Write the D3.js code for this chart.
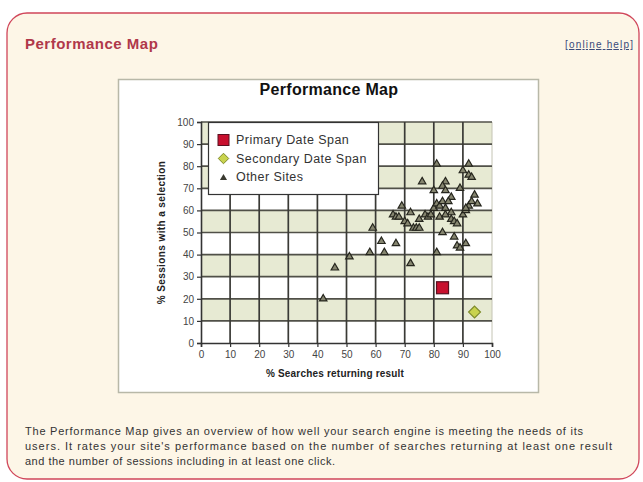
<!DOCTYPE html>
<html>
<head>
<meta charset="utf-8">
<script src="https://cdn.jsdelivr.net/npm/d3@7"></script>
<style>
  body { margin: 0; background: #fff; }
  svg { display: block; }
</style>
</head>
<body>
<svg id="chart"></svg>
<script>
// data
const xTicks = [0, 10, 20, 30, 40, 50, 60, 70, 80, 90, 100];
const yTicks = [0, 10, 20, 30, 40, 50, 60, 70, 80, 90, 100];
const primarySpan = [[83, 25]];
const secondarySpan = [[94, 14]];
const otherSites = [
  [42, 20], [46, 34], [51, 39], [58, 41], [59, 52], [62, 46], [63, 41], [67, 45],
  [72, 36], [81, 41], [83, 50], [87, 48], [88, 44], [89, 43], [91, 45],
  [81, 81], [92, 81], [90, 78], [92, 76], [93, 75], [76, 73], [84, 73], [83, 71],
  [89, 70], [80, 69], [84, 69], [86, 66], [94, 67], [95, 63],
  [66, 58], [67, 57], [69, 62], [70, 55], [71, 54], [72, 59], [73, 52], [74, 52],
  [75, 56], [77, 58], [78, 57], [79, 58], [80, 61], [81, 63], [82, 62], [83, 64],
  [84, 61], [85, 64], [86, 59], [86, 56], [87, 55], [88, 54], [90, 58], [91, 60],
  [92, 62], [93, 64], [82, 57], [84, 58], [91, 61], [75, 52], [68, 57]
];
const legendItems = ["Primary Date Span", "Secondary Date Span", "Other Sites"];
const bandStarts = [10, 30, 50, 70, 90];

const W = 643, H = 482;
const font = "Arial, 'Liberation Sans', sans-serif";
const svg = d3.select("#chart").attr("width", W).attr("height", H);

// outer panel
svg.append("rect")
  .attr("x", 7).attr("y", 13).attr("width", 632).attr("height", 466)
  .attr("rx", 20)
  .attr("fill", "#fdf6e7")
  .attr("stroke", "#d0465a")
  .attr("stroke-width", 1.3);

svg.append("text")
  .attr("x", 25).attr("y", 49)
  .attr("font-family", font)
  .attr("font-size", 15).attr("font-weight", "bold")
  .attr("letter-spacing", 0.5)
  .attr("fill", "#b0384a")
  .text("Performance Map");

svg.append("text")
  .attr("x", 565).attr("y", 48)
  .attr("font-family", font)
  .attr("font-size", 10)
  .attr("textLength", 68).attr("lengthAdjust", "spacing")
  .attr("fill", "#3a4a7a")
  .attr("text-decoration", "underline")
  .text("[online help]");

// chart box
svg.append("rect")
  .attr("x", 118.5).attr("y", 79.5).attr("width", 420).attr("height", 313)
  .attr("fill", "#fff")
  .attr("stroke", "#b8b8a8")
  .attr("stroke-width", 1.5);

svg.append("text")
  .attr("x", 329).attr("y", 95)
  .attr("text-anchor", "middle")
  .attr("font-family", font)
  .attr("font-size", 16).attr("font-weight", "bold")
  .attr("letter-spacing", 0.3)
  .attr("fill", "#111")
  .text("Performance Map");

const x = d3.scaleLinear().domain([0, 100]).range([201, 492]);
const y = d3.scaleLinear().domain([0, 100]).range([343, 122]);

const plot = svg.append("g");

// alternating bands
plot.selectAll("rect.band")
  .data(bandStarts)
  .join("rect")
  .attr("class", "band")
  .attr("x", x(0)).attr("width", x(100) - x(0))
  .attr("y", d => y(d + 10)).attr("height", d => y(d) - y(d + 10))
  .attr("fill", "#e7ead3");

// right border
plot.append("line")
  .attr("x1", x(100)).attr("x2", x(100)).attr("y1", y(100)).attr("y2", y(0))
  .attr("stroke", "#c4c4b4").attr("stroke-width", 1);

// grid
plot.selectAll("line.hgrid")
  .data(yTicks.filter(d => d > 0))
  .join("line")
  .attr("class", "hgrid")
  .attr("x1", x(0)).attr("x2", x(100))
  .attr("y1", d => y(d)).attr("y2", d => y(d))
  .attr("stroke", "#505048").attr("stroke-width", 1.7);

plot.selectAll("line.vgrid")
  .data(xTicks.filter(d => d > 0 && d < 100))
  .join("line")
  .attr("class", "vgrid")
  .attr("x1", d => x(d)).attr("x2", d => x(d))
  .attr("y1", y(100)).attr("y2", y(0))
  .attr("stroke", "#3a3a36").attr("stroke-width", 1.7);

// axes
const xAxis = svg.append("g")
  .attr("transform", `translate(0,${y(0)})`)
  .call(d3.axisBottom(x).tickValues(xTicks).tickSize(4).tickPadding(4));
const yAxis = svg.append("g")
  .attr("transform", `translate(${x(0)},0)`)
  .call(d3.axisLeft(y).tickValues(yTicks).tickSize(4).tickPadding(3));

[xAxis, yAxis].forEach(a => {
  a.select(".domain").attr("stroke", "#333").attr("stroke-width", 1.6);
  a.selectAll(".tick line").attr("stroke", "#333").attr("stroke-width", 1.2);
  a.selectAll("text")
    .attr("font-family", font).attr("font-size", 10).attr("fill", "#444");
});

svg.append("text")
  .attr("x", 335).attr("y", 377)
  .attr("text-anchor", "middle")
  .attr("font-family", font).attr("font-size", 10).attr("font-weight", "bold")
  .attr("letter-spacing", 0.2)
  .attr("fill", "#222")
  .text("% Searches returning result");

svg.append("text")
  .attr("transform", `translate(165,${(y(0) + y(100)) / 2}) rotate(-90)`)
  .attr("text-anchor", "middle")
  .attr("font-family", font).attr("font-size", 10).attr("font-weight", "bold")
  .attr("letter-spacing", 0.4)
  .attr("fill", "#222")
  .text("% Sessions with a selection");

// points
const tri = d3.symbol(d3.symbolTriangle).size(24);
plot.selectAll("path.other")
  .data(otherSites)
  .join("path")
  .attr("class", "other")
  .attr("transform", d => `translate(${x(d[0])},${y(d[1])})`)
  .attr("d", tri)
  .attr("fill", "#85856f")
  .attr("stroke", "#26261e")
  .attr("stroke-width", 1.2);

plot.selectAll("rect.primary")
  .data(primarySpan)
  .join("rect")
  .attr("class", "primary")
  .attr("x", d => x(d[0]) - 6).attr("y", d => y(d[1]) - 6)
  .attr("width", 12).attr("height", 12)
  .attr("fill", "#c8102e")
  .attr("stroke", "#5a1020").attr("stroke-width", 1.2);

const diamond = d3.symbol(d3.symbolDiamond2).size(90);
plot.selectAll("path.secondary")
  .data(secondarySpan)
  .join("path")
  .attr("class", "secondary")
  .attr("transform", d => `translate(${x(d[0])},${y(d[1])})`)
  .attr("d", diamond)
  .attr("fill", "#c9d34e")
  .attr("stroke", "#7d8a2a").attr("stroke-width", 1.2);

// legend
const lg = svg.append("g");
lg.append("rect")
  .attr("x", 208.5).attr("y", 122.5).attr("width", 170).attr("height", 72)
  .attr("fill", "#fff")
  .attr("stroke", "#333").attr("stroke-width", 1.2);

const rowY = d3.scalePoint().domain(legendItems).range([140, 177]);
lg.selectAll("text")
  .data(legendItems)
  .join("text")
  .attr("x", 236).attr("y", d => rowY(d) + 4)
  .attr("font-family", font).attr("font-size", 12.5)
  .attr("letter-spacing", 0.45)
  .attr("fill", "#333")
  .text(d => d);

lg.append("rect")
  .attr("x", 218).attr("y", rowY(legendItems[0]) - 5.5)
  .attr("width", 11).attr("height", 11)
  .attr("fill", "#c8102e").attr("stroke", "#5a1020");
lg.append("path")
  .attr("transform", `translate(223.5,${rowY(legendItems[1])})`)
  .attr("d", d3.symbol(d3.symbolDiamond2).size(70))
  .attr("fill", "#c9d34e").attr("stroke", "#7d8a2a");
lg.append("path")
  .attr("transform", `translate(223.5,${rowY(legendItems[2]) + 1})`)
  .attr("d", d3.symbol(d3.symbolTriangle).size(22))
  .attr("fill", "#3a3a30");

// description
const para = [
  "The Performance Map gives an overview of how well your search engine is meeting the needs of its",
  "users. It rates your site's performance based on the number of searches returning at least one result",
  "and the number of sessions including in at least one click."
];
const paraWidths = [558, 587, 310];
svg.selectAll("text.para")
  .data(para)
  .join("text")
  .attr("class", "para")
  .attr("x", 25).attr("y", (d, i) => 435 + i * 15)
  .attr("font-family", font).attr("font-size", 11)
  .attr("textLength", (d, i) => paraWidths[i]).attr("lengthAdjust", "spacing")
  .attr("fill", "#333")
  .text(d => d);
</script>
</body>
</html>
